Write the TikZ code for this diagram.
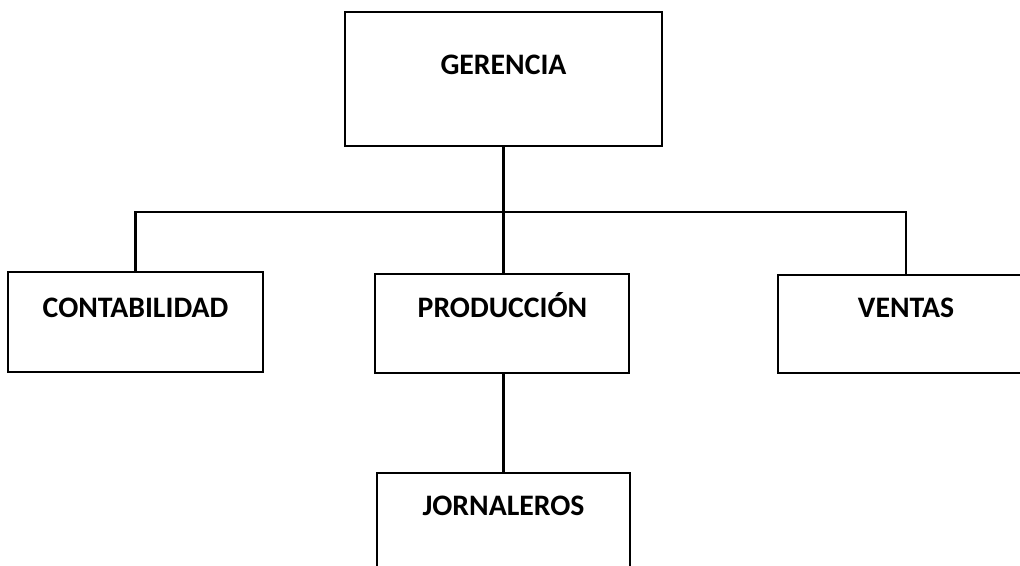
\documentclass[tikz,border=0pt]{standalone}
\usepackage{fontspec}
\setmainfont{Carlito}
\begin{document}
\begin{tikzpicture}[x=0.75pt,y=-0.75pt,
  orgbox/.style={draw=black, line width=1.9pt, fill=none, inner sep=0pt, outer sep=0pt, rectangle},
  orgtext/.style={anchor=base, inner sep=0pt, font=\fontsize{22.3}{26}\selectfont\bfseries},
  link/.style={draw=black, line width=1.9pt}]
\path[use as bounding box, clip] (0,0) rectangle (1020,565);
\fill[white] (0,0) rectangle (1020,565);
% boxes
\node[orgbox, minimum width=237.75pt, minimum height=100.5pt] (ger) at (503.5,79) {};
\node[orgbox, minimum width=191.25pt, minimum height=75pt] (con) at (135.5,322) {};
\node[orgbox, minimum width=190.5pt, minimum height=74.25pt] (pro) at (502,323.5) {};
\node[orgbox, minimum width=192pt, minimum height=73.5pt] (ven) at (906,324) {};
\node[orgbox, minimum width=189.75pt, minimum height=75pt] (jor) at (503.5,523) {};
% texts
\node[orgtext] (tger) at (503.5,74) {GERENCIA};
\node[orgtext] (tcon) at (135.5,317) {CONTABILIDAD};
\node[orgtext] (tpro) at (502.5,317) {PRODUCCIÓN};
\node[orgtext] (tven) at (906,317) {VENTAS};
\node[orgtext] (tjor) at (503.5,515) {JORNALEROS};
% connectors
\coordinate (bar) at (503.5,212);
\draw[link] (ger.south) -- (ger.south |- pro.north);
\draw[link] (con.north) |- (bar) -| (ven.north);
\draw[link] (pro.south -| ger.south) -- (jor.north -| ger.south);
\end{tikzpicture}
\end{document}
